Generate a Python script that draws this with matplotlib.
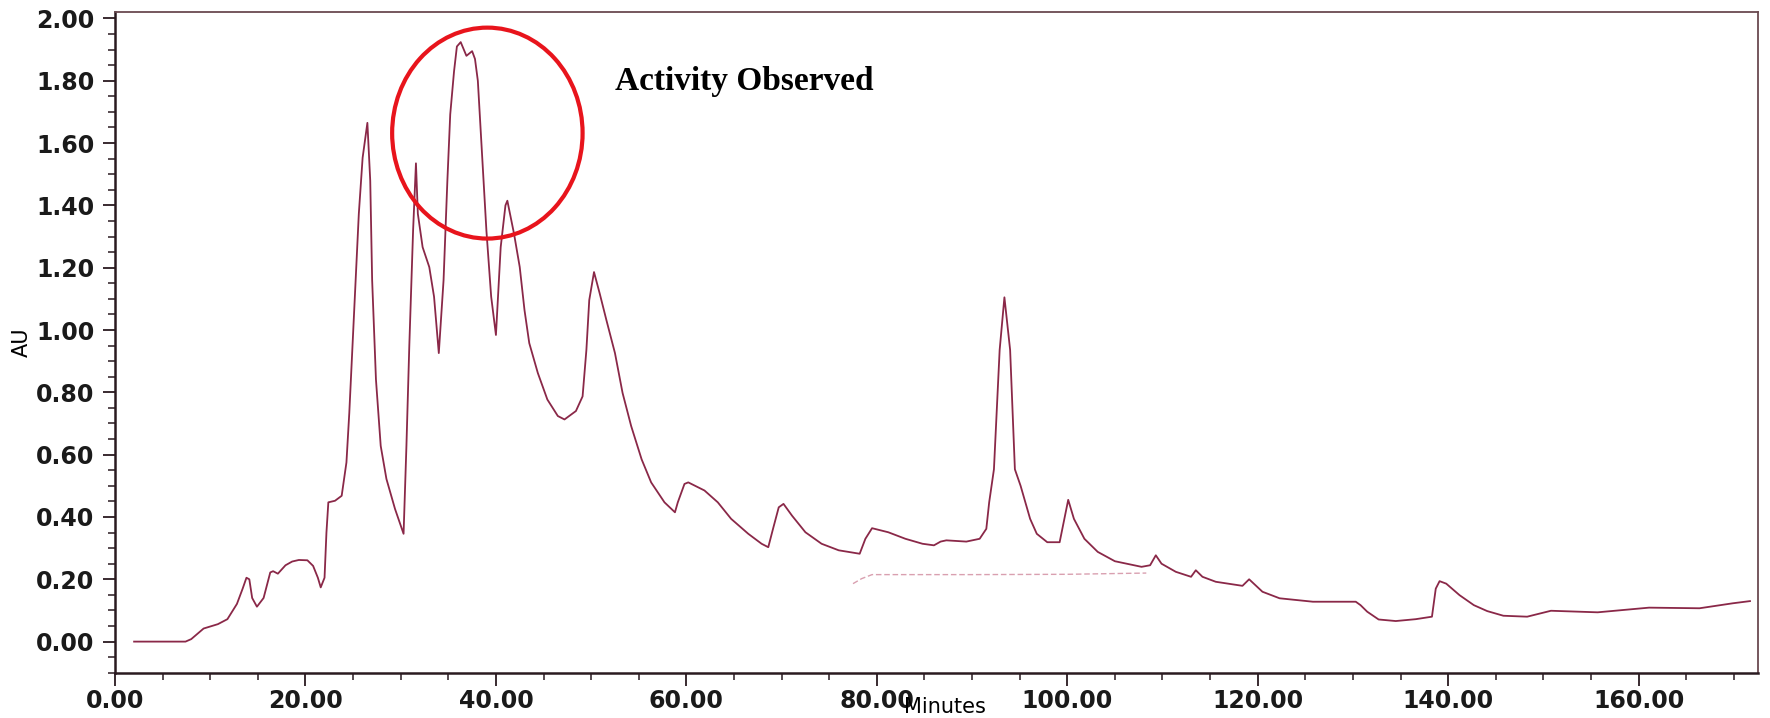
import matplotlib
matplotlib.use("Agg")
import matplotlib.pyplot as plt
from matplotlib.patches import Ellipse
from matplotlib.ticker import MultipleLocator, FormatStrFormatter

# chromatogram trace (minutes, AU)
time_min = [2.0, 7.4, 8.0, 9.3, 10.8, 11.8, 12.8, 13.4, 13.8, 14.1, 14.4, 14.9, 15.6, 16.3,
            16.6, 17.1, 17.9, 18.6, 19.3, 20.2, 20.8, 21.3, 21.6, 22.0, 22.2, 22.4, 23.1,
            23.8, 24.3, 24.6, 25.1, 25.6, 26.0, 26.5, 26.8, 27.0, 27.4, 27.9, 28.5, 29.4,
            30.3, 30.6, 30.9, 31.3, 31.6, 31.8, 32.3, 33.0, 33.5, 34.0, 34.5, 34.9, 35.2,
            35.6, 35.9, 36.3, 36.9, 37.5, 37.8, 38.1, 38.5, 39.0, 39.5, 40.0, 40.5, 41.0,
            41.2, 41.9, 42.5, 43.0, 43.5, 44.4, 45.4, 46.5, 47.2, 48.4, 49.1, 49.5, 49.8,
            50.3, 50.9, 51.6, 52.5, 53.3, 54.2, 55.3, 56.3, 57.7, 58.8, 59.1, 59.8, 60.2,
            61.9, 63.3, 64.7, 66.5, 67.9, 68.6, 69.1, 69.7, 70.2, 71.1, 72.5, 74.2, 76.0,
            78.2, 78.8, 79.5, 81.2, 83.0, 84.8, 86.0, 86.7, 87.3, 89.4, 90.8, 91.5, 91.8,
            92.3, 92.9, 93.4, 94.0, 94.5, 95.1, 96.1, 96.8, 97.9, 99.2, 99.7, 100.1, 100.7,
            101.8, 103.2, 105.0, 107.8, 108.7, 109.3, 109.9, 111.4, 113.0, 113.5, 114.2,
            115.6, 118.4, 119.1, 120.5, 122.3, 125.8, 130.3, 130.8, 131.5, 132.7, 134.5,
            136.6, 138.3, 138.7, 139.1, 139.8, 141.2, 142.7, 144.1, 145.8, 148.3, 150.8,
            155.7, 161.1, 166.4, 169.9, 171.7]
au = [0.0, 0.0, 0.008, 0.042, 0.056, 0.072, 0.121, 0.17, 0.205, 0.2, 0.14, 0.112, 0.14,
      0.222, 0.226, 0.218, 0.245, 0.257, 0.262, 0.261, 0.243, 0.205, 0.174, 0.205, 0.35,
      0.447, 0.452, 0.468, 0.575, 0.734, 1.054, 1.373, 1.553, 1.665, 1.479, 1.16, 0.841,
      0.628, 0.522, 0.426, 0.346, 0.628, 0.947, 1.319, 1.535, 1.373, 1.266, 1.202, 1.107,
      0.926, 1.16, 1.479, 1.692, 1.83, 1.91, 1.924, 1.88, 1.895, 1.87, 1.80, 1.585, 1.319,
      1.107, 0.984, 1.266, 1.40, 1.415, 1.309, 1.202, 1.064, 0.958, 0.862, 0.777, 0.724,
      0.713, 0.74, 0.787, 0.936, 1.096, 1.186, 1.117, 1.032, 0.926, 0.798, 0.692, 0.585,
      0.511, 0.447, 0.415, 0.447, 0.506, 0.511, 0.485, 0.447, 0.394, 0.346, 0.314, 0.303,
      0.362, 0.431, 0.442, 0.404, 0.351, 0.314, 0.293, 0.282, 0.330, 0.364, 0.351, 0.330,
      0.314, 0.309, 0.321, 0.325, 0.321, 0.330, 0.362, 0.447, 0.553, 0.936, 1.105, 0.936,
      0.553, 0.50, 0.394, 0.346, 0.319, 0.319, 0.394, 0.455, 0.394, 0.330, 0.288, 0.258,
      0.240, 0.245, 0.277, 0.250, 0.224, 0.208, 0.229, 0.208, 0.192, 0.179, 0.200, 0.160,
      0.139, 0.128, 0.128, 0.117, 0.096, 0.071, 0.066, 0.072, 0.080, 0.170, 0.194, 0.186,
      0.149, 0.117, 0.098, 0.083, 0.080, 0.099, 0.094, 0.109, 0.107, 0.123, 0.130]

# faint second pen trace visible on the scan
ghost_min = [77.5, 78.4, 79.5, 90.0, 100.0, 108.3]
ghost_au = [0.186, 0.202, 0.215, 0.215, 0.216, 0.22]

fig = plt.figure(figsize=(17.7, 7.18), dpi=100)
ax = fig.add_axes([0.065, 0.063, 0.928, 0.92])

ax.plot(ghost_min, ghost_au, color="#d9a0b0", lw=1.0, ls=(0, (4, 2)))
ax.plot(time_min, au, color="#8a2848", lw=1.3, solid_joinstyle="round")

# highlighted region
ax.add_patch(Ellipse((39.1, 1.632), 20.0, 0.677, fill=False, ec="#e8141c", lw=3.0, zorder=5))
ax.text(52.5, 1.77, "Activity Observed", family="Liberation Serif", fontweight="bold",
        fontsize=24, color="black")

ax.set_xlim(0, 172.5)
ax.set_ylim(-0.1, 2.02)
ax.xaxis.set_major_locator(MultipleLocator(20))
ax.xaxis.set_minor_locator(MultipleLocator(5))
ax.yaxis.set_major_locator(MultipleLocator(0.2))
ax.yaxis.set_minor_locator(MultipleLocator(0.05))
ax.xaxis.set_major_formatter(FormatStrFormatter("%.2f"))
ax.yaxis.set_major_formatter(FormatStrFormatter("%.2f"))

ax.tick_params(which="major", direction="out", length=9, width=1.3, color="#2a1a20",
               labelsize=17)
ax.tick_params(axis="x", which="major", pad=3)
ax.tick_params(axis="y", which="major", pad=6)
ax.tick_params(which="minor", direction="out", length=5, width=1.1, color="#2a1a20")
for lbl in ax.get_xticklabels() + ax.get_yticklabels():
    lbl.set_fontweight("bold")
    lbl.set_color("#1a1a1a")

for side in ("left", "bottom"):
    ax.spines[side].set_color("#2a1a20")
    ax.spines[side].set_linewidth(1.8)
for side in ("top", "right"):
    ax.spines[side].set_color("#6a4a50")
    ax.spines[side].set_linewidth(1.3)

ax.set_xlabel("Minutes", fontsize=15)
ax.xaxis.set_label_coords(0.505, -0.036)
ax.set_ylabel("AU", fontsize=15, labelpad=3)

fig.savefig("out.png", dpi=100)
